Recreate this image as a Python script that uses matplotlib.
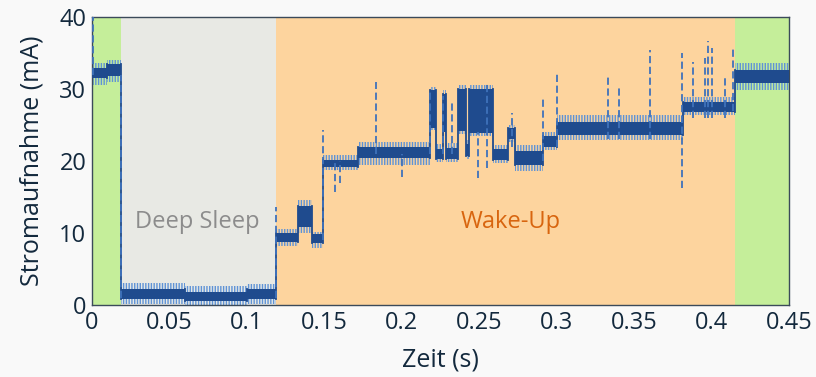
import numpy as np
import matplotlib.pyplot as plt

plt.rcParams['font.family'] = ['Open Sans', 'DejaVu Sans']
plt.rcParams['hatch.linewidth'] = 1.0

# Abschnitte: Startzeit (s) und Bandgrenzen (mA), hell = Rauschhuelle, dunkel = Kern
t_seg   = [0.000, 0.010, 0.0185, 0.060, 0.100, 0.1186, 0.133, 0.142, 0.149, 0.172,
           0.218, 0.222, 0.2265, 0.2285, 0.236, 0.2415, 0.2435, 0.259, 0.2686, 0.273,
           0.291, 0.300, 0.3815, 0.415]
lo_hell = [30.6, 31.0, 0.1, 0.0, 0.2, 8.2, 10.0, 7.9, 18.7, 19.4,
           24.3, 19.8, 23.5, 19.8, 23.8, 20.3, 23.4, 19.7, 22.6, 18.6,
           21.5, 22.9, 26.4, 29.9]
hi_hell = [33.6, 34.0, 3.0, 2.6, 2.9, 10.5, 14.6, 10.2, 20.8, 22.6,
           30.3, 22.3, 29.8, 22.5, 30.5, 22.9, 30.5, 22.2, 25.0, 22.2,
           24.0, 26.4, 28.9, 33.6]
lo_dunkel = [31.5, 31.8, 0.8, 0.6, 0.8, 8.8, 10.8, 8.6, 19.2, 20.4,
             24.6, 20.3, 24.0, 20.3, 24.2, 20.7, 23.9, 20.2, 23.0, 19.4,
             22.0, 23.6, 26.8, 30.8]
hi_dunkel = [32.9, 33.4, 2.2, 1.8, 2.2, 10.0, 13.8, 9.8, 20.2, 22.0,
             29.8, 21.7, 29.3, 21.8, 30.0, 22.4, 30.0, 21.7, 24.6, 21.4,
             23.5, 25.4, 28.2, 32.6]
t_ende = 0.45

# Spitzen: Zeit, unten, oben (mA)
spitze_t  = [0.0005, 0.0185, 0.1186, 0.149, 0.157, 0.160, 0.183, 0.200, 0.218, 0.2265,
             0.2324, 0.249, 0.255, 0.271, 0.291, 0.300, 0.333, 0.340, 0.360, 0.381,
             0.388, 0.3957, 0.3977, 0.400, 0.4087, 0.4138]
spitze_lo = [32, 1, 1, 9, 15.7, 17, 21, 17.8, 21, 21,
             21, 17.6, 19, 22, 20, 22, 23, 23, 23, 16.2,
             26, 26, 26, 26, 26, 27]
spitze_hi = [40, 32, 13.6, 24.3, 20, 20, 31, 21, 30, 29,
             28.5, 24, 31, 26.6, 28.9, 32.2, 32.1, 30.1, 35.4, 35.0,
             33.8, 34.3, 36.6, 35.7, 31.8, 35.9]

# Phasen
phasen_start = [0.0, 0.0185, 0.1186, 0.4153]
phasen_ende = [0.0185, 0.1186, 0.4153, 0.45]
phasen_farbe = ['#c5ee9a', '#e8e9e4', '#fdd49e', '#c5ee9a']

dunkel = '#1f4b8e'
hell = '#5f93d6'

fig = plt.figure(figsize=(8.16, 3.77), dpi=100)
fig.patch.set_facecolor('#f9f9f9')
ax = fig.add_axes([0.1127, 0.191, 0.8545, 0.764])

for a, b, c in zip(phasen_start, phasen_ende, phasen_farbe):
    ax.axvspan(a, b, color=c, lw=0, zorder=0)

tx = np.array(t_seg + [t_ende])
def ext(v):
    return np.array(v + [v[-1]])

ax.fill_between(tx, ext(lo_hell), ext(hi_hell), step='post', facecolor='none',
                edgecolor=hell, hatch='||||||', lw=0, zorder=2)
ax.fill_between(tx, ext(lo_dunkel), ext(hi_dunkel), step='post', facecolor=dunkel,
                lw=0, zorder=3)

# Uebergaenge zwischen den Abschnitten
for i in range(1, len(t_seg)):
    a = min(lo_dunkel[i - 1], lo_dunkel[i])
    b = max(hi_dunkel[i - 1], hi_dunkel[i])
    ax.plot([t_seg[i], t_seg[i]], [a, b], color=dunkel, lw=1.3, zorder=3)

ax.vlines(spitze_t, spitze_lo, spitze_hi, colors='#3f72bb', linestyles=(0, (4, 2)), lw=1.3, zorder=4)

ax.text(0.0678, 11.5, 'Deep Sleep', color='#8c8c8c', fontsize=17, ha='center', va='center')
ax.text(0.2705, 11.5, 'Wake-Up', color='#d8650f', fontsize=17, ha='center', va='center')

ax.set_xlim(0, 0.45)
ax.set_ylim(0, 40)
xt = [0, 0.05, 0.1, 0.15, 0.2, 0.25, 0.3, 0.35, 0.4, 0.45]
ax.set_xticks(xt)
ax.set_xticklabels(['0', '0.05', '0.1', '0.15', '0.2', '0.25', '0.3', '0.35', '0.4', '0.45'])
ax.set_yticks([0, 10, 20, 30, 40])
ax.tick_params(length=0, labelsize=17, colors='#13293d', pad=4)
for s in ax.spines.values():
    s.set_color('#3b4a5a')
    s.set_linewidth(1)
ax.set_xlabel('Zeit (s)', fontsize=18, color='#13293d', labelpad=9)
ax.set_ylabel('Stromaufnahme (mA)', fontsize=18, color='#13293d', labelpad=11)

fig.savefig('out.png', dpi=100, facecolor=fig.get_facecolor())
